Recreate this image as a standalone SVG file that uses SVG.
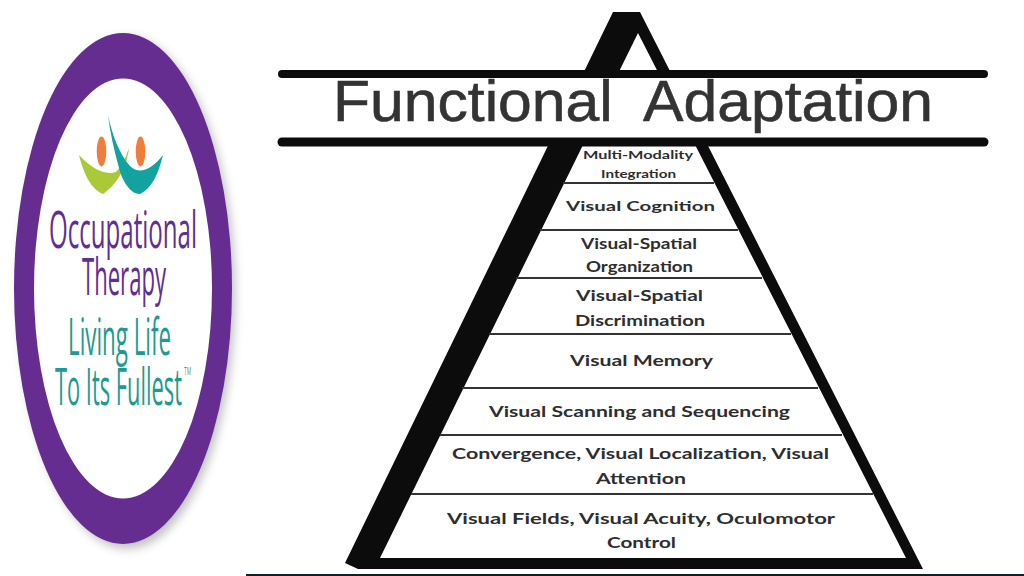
<svg xmlns="http://www.w3.org/2000/svg" width="1024" height="576" viewBox="0 0 1024 576">
<style>
.lbl{font-family:"Lato","Liberation Sans",sans-serif;font-weight:700;fill:#2e2e2e;font-size:16px}
.logo{font-family:"Open Sans","Liberation Sans",sans-serif;font-weight:500;font-size:52px}
.pur{fill:#5f3090}
.tea{fill:#1f9a90}
.rule{stroke:#333;stroke-width:2;fill:none}
.bar{stroke:#0c0c0c;stroke-linecap:round;fill:none}
</style>
<defs>
<filter id="soft" x="-20%" y="-20%" width="140%" height="140%"><feGaussianBlur stdDeviation="5"/></filter>
</defs>
<rect width="1024" height="576" fill="#fff"/>
<g id="logo">
<ellipse cx="127" cy="293" rx="108" ry="256" fill="#999" opacity=".6" filter="url(#soft)"/>
<ellipse cx="123" cy="288.500" rx="109" ry="255.500" fill="#662d91"/>
<ellipse cx="123" cy="288.500" rx="89" ry="210" fill="#fff"/>
<ellipse cx="101.500" cy="151.500" rx="4.800" ry="15" fill="#ef7d3c"/>
<ellipse cx="140.500" cy="151.500" rx="4.800" ry="15" fill="#ef7d3c"/>
<path d="M79 155C90 167 104 176 116 172C122 166 126 157 129 148C127 164 120 182 103 194C91 190 83 172 79 155Z" fill="#a9c938"/>
<path d="M108 115C112 135 120 155 130 166C140 176 153 168 163 155C158 175 152 188 140 194C130 194 122 180 119 168C114 150 110 132 108 115Z" fill="#12a3a0"/>
<text class="logo pur" transform="translate(49,248) scale(.46,1)" textLength="321.700" lengthAdjust="spacingAndGlyphs">Occupational</text>
<text class="logo pur" transform="translate(82,295) scale(.46,1)" textLength="182.600" lengthAdjust="spacingAndGlyphs">Therapy</text>
<text class="logo tea" transform="translate(68,355) scale(.46,1)" textLength="224" lengthAdjust="spacingAndGlyphs">Living Life</text>
<text class="logo tea" transform="translate(55,405) scale(.46,1)" textLength="276" lengthAdjust="spacingAndGlyphs">To Its Fullest</text>
<text class="logo tea" transform="translate(184,375) scale(.6,1)" style="font-size:10px" textLength="11.700" lengthAdjust="spacingAndGlyphs">TM</text>
</g>
<g id="pyramid">
<path d="M613 12H640L923 569H358L345 563ZM638 33L380 558H906Z" fill="#0c0c0c" fill-rule="evenodd"/>
<rect x="282" y="78" width="702" height="60" fill="#fff"/>
<line class="bar" x1="282" y1="74" x2="984" y2="74" stroke-width="8"/>
<line class="bar" x1="282" y1="142" x2="984" y2="142" stroke-width="9"/>
<text id="title" x="333" y="121" font-family="'Liberation Sans',Arial,sans-serif" font-size="57" fill="#333" stroke="#333" stroke-width=".6" textLength="600" lengthAdjust="spacingAndGlyphs" xml:space="preserve">Functional  Adaptation</text>
</g>
<g id="connectors">
<line class="rule" x1="563" y1="183" x2="714" y2="183"/>
<line class="rule" x1="540" y1="230" x2="738" y2="230"/>
<line class="rule" x1="516" y1="278" x2="762" y2="278"/>
<line class="rule" x1="489" y1="334" x2="791" y2="334"/>
<line class="rule" x1="462" y1="388" x2="818" y2="388"/>
<line class="rule" x1="440" y1="435" x2="842" y2="435"/>
<line class="rule" x1="411" y1="494" x2="873" y2="494"/>
</g>
<g id="level-8"><text class="lbl" x="583" y="159" style="font-size:11.500px" textLength="110" lengthAdjust="spacingAndGlyphs">Multi-Modality</text><text class="lbl" x="601" y="178" style="font-size:11.500px" textLength="75" lengthAdjust="spacingAndGlyphs">Integration</text></g>
<g id="level-7"><text class="lbl" x="566" y="211" style="font-size:14px" textLength="149" lengthAdjust="spacingAndGlyphs">Visual Cognition</text></g>
<g id="level-6"><text class="lbl" x="581" y="249" style="font-size:14.500px" textLength="116" lengthAdjust="spacingAndGlyphs">Visual-Spatial</text><text class="lbl" x="586" y="272" style="font-size:14.500px" textLength="107" lengthAdjust="spacingAndGlyphs">Organization</text></g>
<g id="level-5"><text class="lbl" x="576" y="301" style="font-size:15.500px" textLength="127" lengthAdjust="spacingAndGlyphs">Visual-Spatial</text><text class="lbl" x="575" y="326" style="font-size:15.500px" textLength="130" lengthAdjust="spacingAndGlyphs">Discrimination</text></g>
<g id="level-4"><text class="lbl" x="570" y="366" textLength="143" lengthAdjust="spacingAndGlyphs">Visual Memory</text></g>
<g id="level-3"><text class="lbl" x="489" y="417" textLength="301" lengthAdjust="spacingAndGlyphs">Visual Scanning and Sequencing</text></g>
<g id="level-2"><text class="lbl" x="452" y="459" textLength="377" lengthAdjust="spacingAndGlyphs">Convergence, Visual Localization, Visual</text><text class="lbl" x="596" y="484" textLength="90" lengthAdjust="spacingAndGlyphs">Attention</text></g>
<g id="level-1"><text class="lbl" x="447" y="524" textLength="388" lengthAdjust="spacingAndGlyphs">Visual Fields, Visual Acuity, Oculomotor</text><text class="lbl" x="607" y="548" textLength="69" lengthAdjust="spacingAndGlyphs">Control</text></g>
<rect id="baseline" x="246" y="574" width="778" height="2" fill="#10202a"/>
</svg>
